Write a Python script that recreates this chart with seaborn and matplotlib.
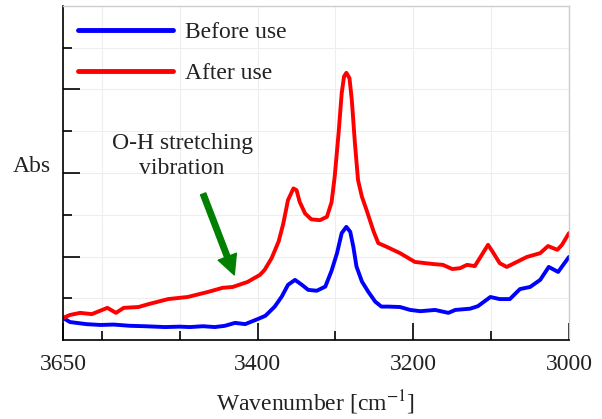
import numpy as np
import pandas as pd
import matplotlib
matplotlib.use("Agg")
import matplotlib.pyplot as plt
from matplotlib.ticker import FixedLocator, NullFormatter, FixedFormatter
import seaborn as sns

# spectra (wavenumber cm-1, absorbance in arbitrary units)
wn_before = [3650, 3641, 3620, 3602, 3585, 3564, 3545, 3519, 3500, 3487, 3470, 3455,
             3442, 3429, 3416, 3400, 3390, 3378, 3369, 3361, 3352, 3343, 3335, 3324,
             3313, 3305, 3298, 3292, 3286, 3281, 3277, 3273, 3266, 3258, 3249, 3241,
             3232, 3217, 3204, 3191, 3172, 3155, 3146, 3127, 3117, 3101, 3089, 3076,
             3063, 3050, 3037, 3026, 3014, 3000]
abs_before = [0.53, 0.43, 0.38, 0.36, 0.37, 0.34, 0.33, 0.31, 0.32, 0.31, 0.33, 0.31,
              0.34, 0.41, 0.38, 0.50, 0.58, 0.80, 1.04, 1.32, 1.44, 1.32, 1.20, 1.18,
              1.28, 1.66, 2.08, 2.56, 2.71, 2.59, 2.23, 1.76, 1.40, 1.16, 0.92, 0.80,
              0.80, 0.79, 0.72, 0.69, 0.72, 0.65, 0.72, 0.75, 0.81, 1.03, 0.98, 0.98,
              1.22, 1.27, 1.44, 1.75, 1.63, 1.99]

wn_after = [3650, 3641, 3628, 3613, 3593, 3582, 3572, 3553, 3540, 3515, 3490, 3464,
            3445, 3432, 3413, 3397, 3391, 3382, 3373, 3367, 3361, 3354, 3350, 3346,
            3339, 3331, 3320, 3311, 3305, 3301, 3296, 3292, 3289, 3286, 3282, 3279,
            3275, 3271, 3266, 3260, 3251, 3245, 3234, 3217, 3198, 3175, 3162, 3150,
            3140, 3131, 3121, 3112, 3104, 3098, 3089, 3080, 3067, 3054, 3037, 3027,
            3015, 3009, 3000]
abs_after = [0.53, 0.60, 0.65, 0.62, 0.77, 0.65, 0.77, 0.79, 0.86, 0.98, 1.03, 1.15,
             1.25, 1.27, 1.39, 1.56, 1.68, 1.96, 2.36, 2.79, 3.35, 3.63, 3.59, 3.31,
             3.03, 2.89, 2.87, 2.95, 3.30, 3.91, 4.95, 5.91, 6.31, 6.40, 6.27, 5.75,
             4.71, 3.83, 3.43, 3.11, 2.60, 2.32, 2.23, 2.08, 1.87, 1.82, 1.80, 1.70,
             1.72, 1.80, 1.77, 2.04, 2.28, 2.11, 1.84, 1.75, 1.87, 1.99, 2.08, 2.25,
             2.16, 2.28, 2.56]

series_names = ["Before use", "After use"]
series_colors = ["#0000ff", "#ff0000"]
xtick_labels = ["3650", "3400", "3200", "3000"]

df = pd.concat([
    pd.DataFrame({"wn": wn_before, "abs": abs_before, "sample": series_names[0]}),
    pd.DataFrame({"wn": wn_after, "abs": abs_after, "sample": series_names[1]}),
], ignore_index=True)

sns.set_theme(style="whitegrid")
plt.rcParams["font.family"] = ["Liberation Serif", "DejaVu Serif"]
plt.rcParams["mathtext.fontset"] = "stix"

fig = plt.figure(figsize=(6.02, 4.19), dpi=100)
ax = fig.add_axes([63 / 602, 79 / 419, 506 / 602, 334 / 419])

sns.lineplot(data=df, x="wn", y="abs", hue="sample", palette=series_colors,
             linewidth=2.8, sort=False, ax=ax, legend=False)
for line in ax.lines:
    line.set_solid_joinstyle("round")
    line.set_solid_capstyle("round")

ax.set_xlim(3650, 3000)
ax.set_ylim(0, 8)

ax.xaxis.set_major_locator(FixedLocator([3650, 3400, 3200, 3000]))
ax.xaxis.set_major_formatter(FixedFormatter(xtick_labels))
ax.xaxis.set_minor_locator(FixedLocator([3600, 3500, 3300, 3100]))
ax.yaxis.set_major_locator(FixedLocator([2, 4, 6]))
ax.yaxis.set_minor_locator(FixedLocator([1, 3, 5, 7]))
ax.yaxis.set_major_formatter(NullFormatter())

ax.tick_params(axis="both", which="major", direction="in", length=12, width=1.2,
               color="black", labelsize=17, labelcolor="#222222", bottom=True, left=True)
ax.tick_params(axis="both", which="minor", direction="in", length=6.5, width=1.2,
               color="black", bottom=True, left=True)
ax.tick_params(axis="x", which="major", pad=10)

ax.grid(True, which="both", color="#eeeeee", linewidth=0.8)
ax.set_axisbelow(True)
for side in ["left", "bottom"]:
    ax.spines[side].set_color("black")
    ax.spines[side].set_linewidth(1.2)
for side in ["top", "right"]:
    ax.spines[side].set_color("#cccccc")
    ax.spines[side].set_linewidth(1.0)

ax.set_xlabel("Wavenumber [cm$^{-1}$]", fontsize=17, color="#222222", labelpad=10)
ax.set_ylabel("Abs", fontsize=17, color="#222222", rotation=0, va="center", ha="center")
ax.yaxis.set_label_coords(-0.062, 0.52)

# legend drawn with the line styles used above
handles = [plt.Line2D([], [], color=c, linewidth=3.5) for c in series_colors]
ax.legend(handles, series_names, loc="upper left", bbox_to_anchor=(0.0, 1.0),
          frameon=False, fontsize=17, handlelength=4.0, labelspacing=0.85,
          handletextpad=0.5, borderaxespad=0.25, labelcolor="#222222")

ax.annotate("", xy=(3430, 1.56), xytext=(3470, 3.5),
            arrowprops=dict(facecolor="green", edgecolor="green", width=4,
                            headwidth=14, headlength=14))
ax.text(3497, 4.41, "O-H stretching\nvibration", fontsize=17, color="#222222",
        ha="center", va="center", linespacing=1.25)

fig.savefig("out.png", dpi=100)
